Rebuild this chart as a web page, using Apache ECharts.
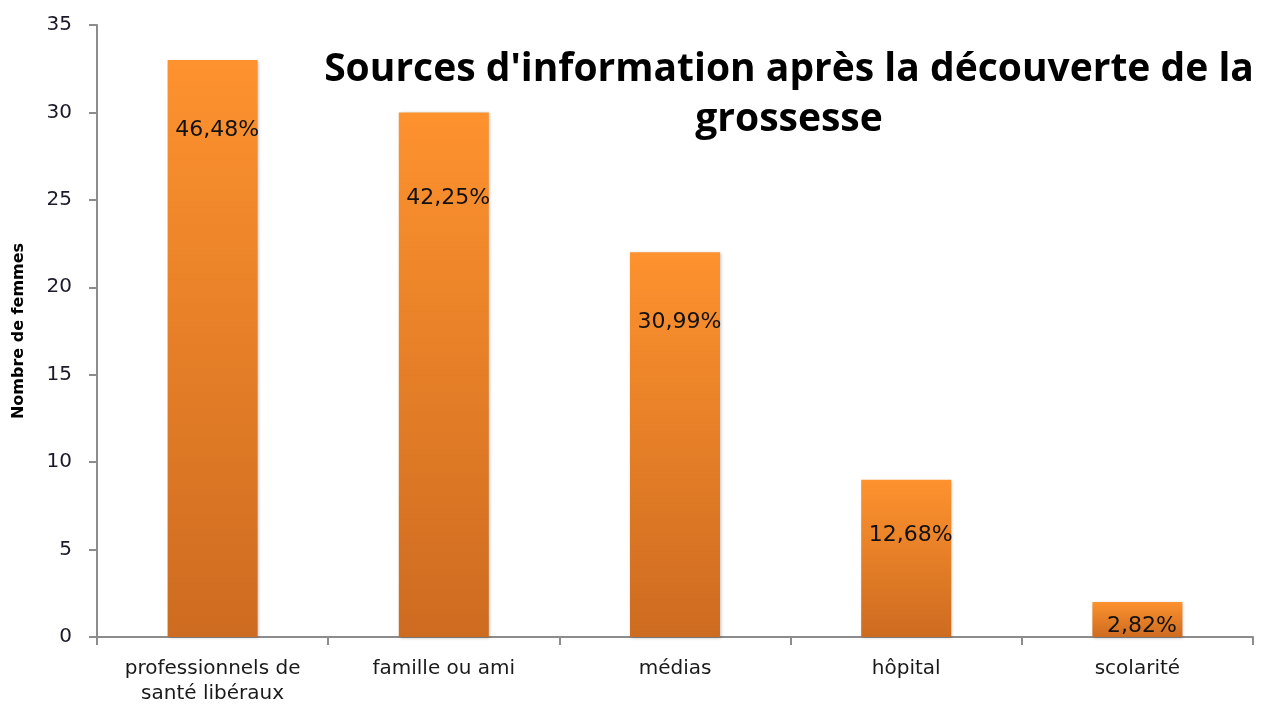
<!DOCTYPE html>
<html>
<head>
<meta charset="utf-8">
<script src="https://cdn.jsdelivr.net/npm/echarts@6/dist/echarts.min.js"></script>
<style>
  html, body { margin: 0; padding: 0; background: #fff; }
  #ch-main { width: 1266px; height: 705px; }
</style>
</head>
<body>
<div id="ch-main"></div>
<script>
let main = echarts.init(document.getElementById('ch-main'));

// data
const categories = ['professionnels de\nsanté libéraux', 'famille ou ami', 'médias', 'hôpital', 'scolarité'];
const femmes = [33, 30, 22, 9, 2];
const percents = ['46,48%', '42,25%', '30,99%', '12,68%', '2,82%'];

// where each percentage sits below the top of its bar (px)
const labelDrop = [70, 86, 70, 56, 24];

let barFill = new echarts.graphic.LinearGradient(0, 0, 0, 1, [
    { offset: 0, color: '#fd922e' },
    { offset: 1, color: '#cd6b20' }
]);

let option = {
    animation: false,
    textStyle: { fontFamily: '"DejaVu Sans", sans-serif' },
    title: {
        text: "Sources d'information après la découverte de la\ngrossesse",
        left: 784,
        top: 40,
        textAlign: 'center',
        textStyle: {
            fontSize: 39,
            fontWeight: 'bold',
            color: '#000',
            lineHeight: 50,
            fontFamily: '"Open Sans", sans-serif'
        }
    },
    grid: { left: 97, right: 13, top: 25, bottom: 68, outerBoundsMode: 'none' },
    xAxis: {
        type: 'category',
        data: categories,
        axisLine: { lineStyle: { color: '#8c8c8c', width: 2 } },
        axisTick: { show: true, interval: 0, length: 8, lineStyle: { color: '#8c8c8c', width: 2 } },
        axisLabel: { interval: 0, fontSize: 20, color: '#1a1a1a', margin: 19, lineHeight: 25 }
    },
    yAxis: {
        type: 'value',
        min: 0,
        max: 35,
        interval: 5,
        name: 'Nombre de femmes',
        nameLocation: 'middle',
        nameRotate: 90,
        nameGap: 70,
        nameTextStyle: { fontSize: 16, fontWeight: 'bold', color: '#000' },
        axisLine: { show: true, lineStyle: { color: '#8c8c8c', width: 2 } },
        axisTick: { show: true, length: 8, lineStyle: { color: '#8c8c8c', width: 2 } },
        axisLabel: { fontSize: 20, color: '#1a1a2a', margin: 25 },
        splitLine: { show: false }
    },
    series: [
        {
            type: 'bar',
            name: 'Nombre de femmes',
            barWidth: 90,
            data: femmes.map(function (v, i) {
                return {
                    value: v,
                    label: { position: ['55%', labelDrop[i]] }
                };
            }),
            itemStyle: {
                color: barFill,
                shadowColor: 'rgba(0,0,0,0.25)',
                shadowBlur: 3,
                shadowOffsetX: 1,
                shadowOffsetY: 1
            },
            label: {
                show: true,
                align: 'center',
                verticalAlign: 'middle',
                fontSize: 22,
                color: '#111',
                formatter: function (p) { return percents[p.dataIndex]; }
            }
        }
    ]
};

main.setOption(option);
</script>
</body>
</html>
